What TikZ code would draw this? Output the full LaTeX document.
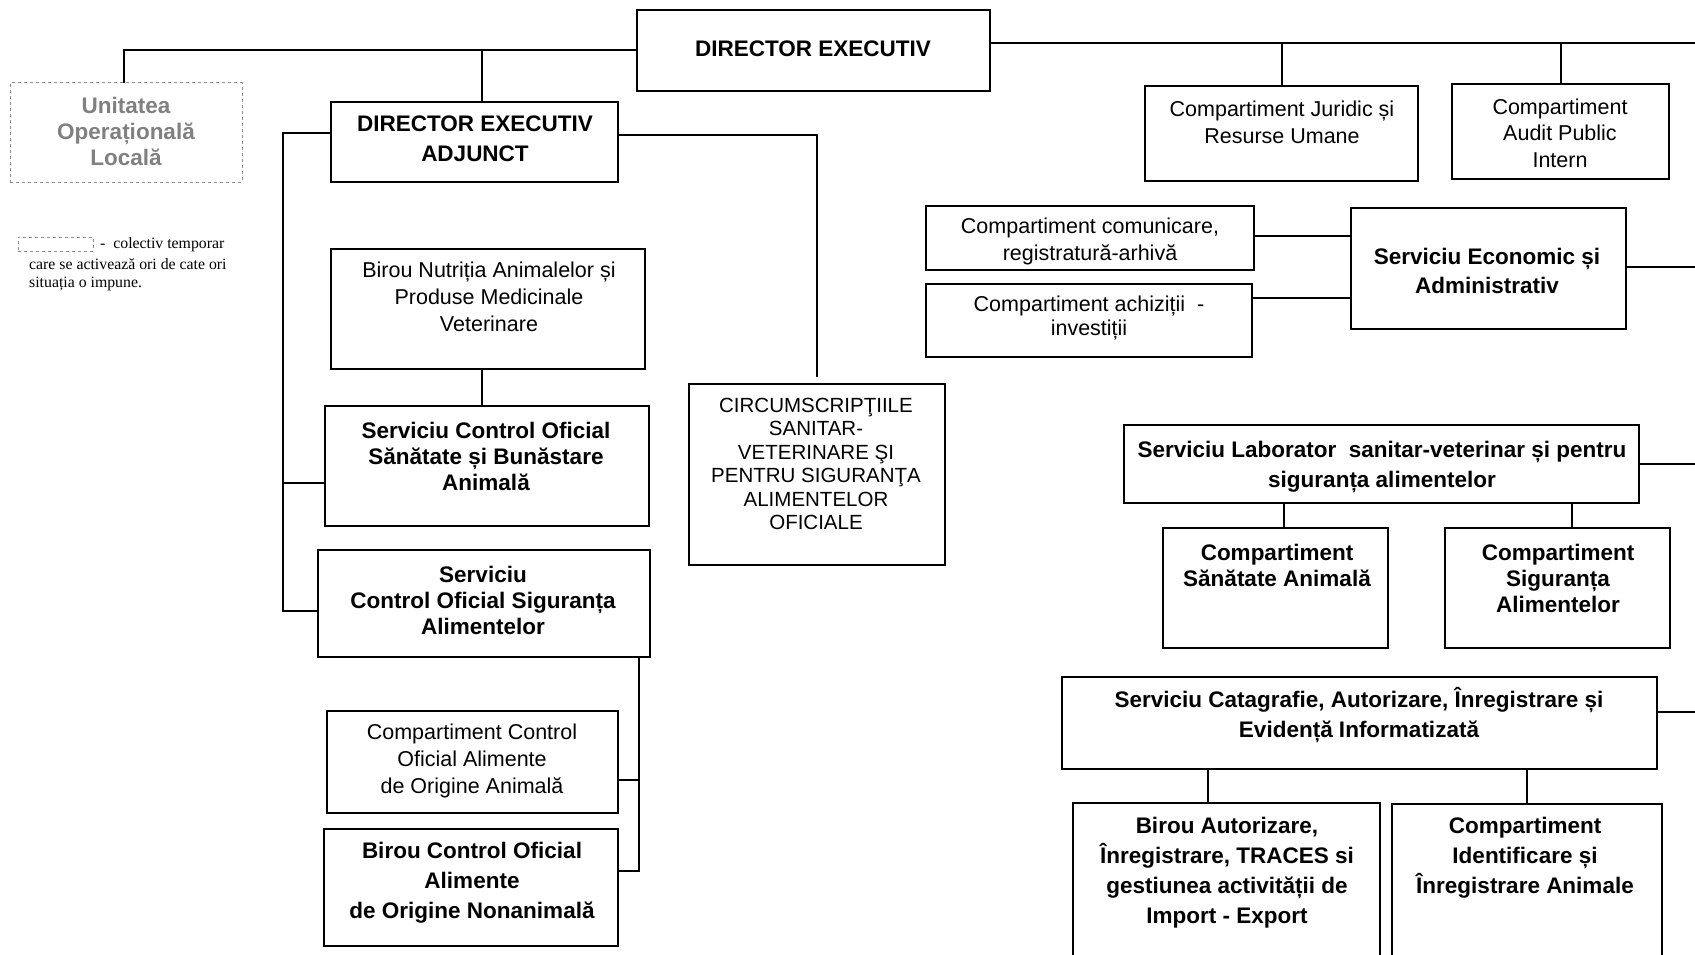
\documentclass[tikz,border=0pt]{standalone}
\usepackage{fontspec}
\setmainfont{Liberation Sans}
\newfontfamily\legfont{Liberation Serif}
\newcommand\orgbox[6][]{\node[box,#1,minimum width={#5-#3},minimum height={#6-#4}] (#2) at ({(#3+#5)/2},{(#4+#6)/2}) {};}
\begin{document}
\begin{tikzpicture}[x=1pt,y=-1pt,
  box/.style={draw,line width=2.4pt,inner sep=0pt,outer sep=0pt},
  ln/.style={line width=2pt},
  bt/.style={font=\bfseries\fontsize{22.5}{#1}\selectfont,align=center,inner sep=0pt},
  bt/.default=27,
  rt/.style={font=\fontsize{21.5}{#1}\selectfont,align=center,inner sep=0pt},
  rt/.default=27,
  lt/.style={font=\legfont\fontsize{15.8}{19.5}\selectfont,anchor=west,inner sep=0pt}]
\useasboundingbox (0,0) rectangle (1695,955);
\clip (0,0) rectangle (1695,955);

% boxes
\orgbox{DIR}{637}{10}{990}{91}
\orgbox[draw=black!45,dashed,line width=1pt]{UOL}{10}{83}{242}{182}
\orgbox[line width=2.8pt]{ADJ}{331}{102}{618}{182}
\orgbox{JUR}{1145}{86}{1418}{181}
\orgbox{AUD}{1452}{84}{1669}{179}
\orgbox[draw=black!45,dashed,line width=0.8pt]{LEG}{18}{237}{93}{251}
\orgbox{NUT}{331}{249}{645}{369}
\orgbox{SAN}{325}{406}{649}{526}
\orgbox{SIG}{318}{550}{650}{657}
\orgbox{CAN}{327}{711}{618}{813}
\orgbox{CNA}{324}{829}{618}{946}
\orgbox{CIR}{689}{384}{945}{565}
\orgbox{COM}{926}{206}{1254}{270}
\orgbox{ACH}{926}{284}{1252}{357}
\orgbox{ECO}{1351}{208}{1626}{329}
\orgbox{LAB}{1124}{425}{1639}{503}
\orgbox{SANA}{1163}{528}{1388}{648}
\orgbox{SIGA}{1445}{528}{1670}{648}
\orgbox{CAT}{1062}{677}{1657}{769}
\orgbox{AUT}{1073}{803}{1380}{965}
\orgbox{IDE}{1392}{804}{1662}{965}

% texts
\node[bt] (tDIR) at (813,49) {DIRECTOR EXECUTIV};
\node[bt=26,text=black!50] (tUOL) at (126,131) {Unitatea\\Operațională\\Locală};
\node[bt=30] (tADJ) at (475,139) {DIRECTOR EXECUTIV\\ADJUNCT};
\node[rt=27] (tJUR) at (1282,122) {Compartiment Juridic și\\Resurse Umane};
\node[rt=26.5] (tAUD) at (1560,133) {Compartiment\\Audit Public\\Intern};
\node[rt=27] (tNUT) at (489,297) {Birou Nutriția Animalelor și\\Produse Medicinale\\Veterinare};
\node[bt=26] (tSAN) at (486,456) {Serviciu Control Oficial\\Sănătate și Bunăstare\\Animală};
\node[bt=26] (tSIG) at (483,600) {Serviciu\\Control Oficial Siguranța\\Alimentelor};
\node[rt=27] (tCAN) at (472,761) {Compartiment Control\\Oficial Alimente\\de Origine Animală};
\node[bt=30] (tCNA) at (472,883) {Birou Control Oficial\\Alimente\\de Origine Nonanimală};
\node[font=\fontsize{20.5}{23.5}\selectfont,align=center,inner sep=0pt] (tCIR) at (816,464) {CIRCUMSCRIPŢIILE\\SANITAR-\\VETERINARE ŞI\\PENTRU SIGURANŢA\\ALIMENTELOR\\OFICIALE};
\node[rt=27] (tCOM) at (1090,241) {Compartiment comunicare,\\registratură-arhivă};
\node[rt=24] (tACH) at (1089,318) {Compartiment achiziții~~-\\investiții};
\node[bt=29] (tECO) at (1487,271) {Serviciu Economic și\\Administrativ};
\node[bt=30] (tLAB) at (1382,467) {Serviciu Laborator~ sanitar-veterinar și pentru\\siguranța alimentelor};
\node[bt=26] (tSANA) at (1277,565) {Compartiment\\Sănătate Animală};
\node[bt=26] (tSIGA) at (1558,578) {Compartiment\\Siguranța\\Alimentelor};
\node[bt=30] (tCAT) at (1359,715) {Serviciu Catagrafie, Autorizare, Înregistrare și\\Evidență Informatizată};
\node[bt=30] (tAUT) at (1227,873) {Birou Autorizare,\\Înregistrare, TRACES si\\gestiunea activității de\\Import - Export};
\node[bt=30] (tIDE) at (1525,858) {Compartiment\\Identificare și\\Înregistrare Animale};

% legend
\node[lt] (tLEG1) at (100,245) {-~~colectiv temporar};
\node[lt] (tLEG2) at (29,264) {care se activează ori de cate ori};
\node[lt] (tLEG3) at (29,284) {situația o impune.};

% connectors
\coordinate (jA) at (482,49);
\coordinate (E1) at (1700,43);
\coordinate (E2) at (1700,267);
\coordinate (E3) at (1700,712);
\coordinate (L1) at (283,133);
\coordinate (L2) at (283,611);
\coordinate (L3) at (283,483);
\coordinate (R1) at (817,135);
\coordinate (S1) at (639,871);
\coordinate (S2) at (639,780);

\draw[ln] (DIR.west) -| ([xshift=-2pt]UOL.north);
\draw[ln] (jA) -- (jA |- ADJ.north);
\draw[ln] (DIR.east |- E1) -- (E1);
\draw[ln] (JUR.north) -- (JUR.north |- E1);
\draw[ln] (AUD.north) -- (AUD.north |- E1);

\draw[ln] (ADJ.west |- L1) -- (L1) -- (L2) -- (SIG.west |- L2);
\draw[ln] (L3) -- (SAN.west |- L3);
\draw[ln] (ADJ.east |- R1) -- (R1) -- ([yshift=7pt]CIR.north);
\draw[ln] (NUT.south -| jA) -- (SAN.north -| jA);

\draw[ln] (SIG.south -| S1) -- (S1) -- (CNA.east |- S1);
\draw[ln] (S2) -- (CAN.east |- S2);

\draw[ln] (COM.east |- 0,236) -- (ECO.west |- 0,236);
\draw[ln] (ACH.east |- 0,298) -- (ECO.west |- 0,298);
\draw[ln] (ECO.east |- E2) -- (E2);
\draw[ln] (LAB.east) -- (LAB.east -| E2);
\draw[ln] (LAB.south -| 1284,0) -- (SANA.north -| 1284,0);
\draw[ln] (LAB.south -| 1572,0) -- (SIGA.north -| 1572,0);
\draw[ln] (CAT.east |- E3) -- (E3);
\draw[ln] (CAT.south -| 1208,0) -- (AUT.north -| 1208,0);
\draw[ln] (CAT.south -| IDE.north) -- (IDE.north);
\end{tikzpicture}
\end{document}
